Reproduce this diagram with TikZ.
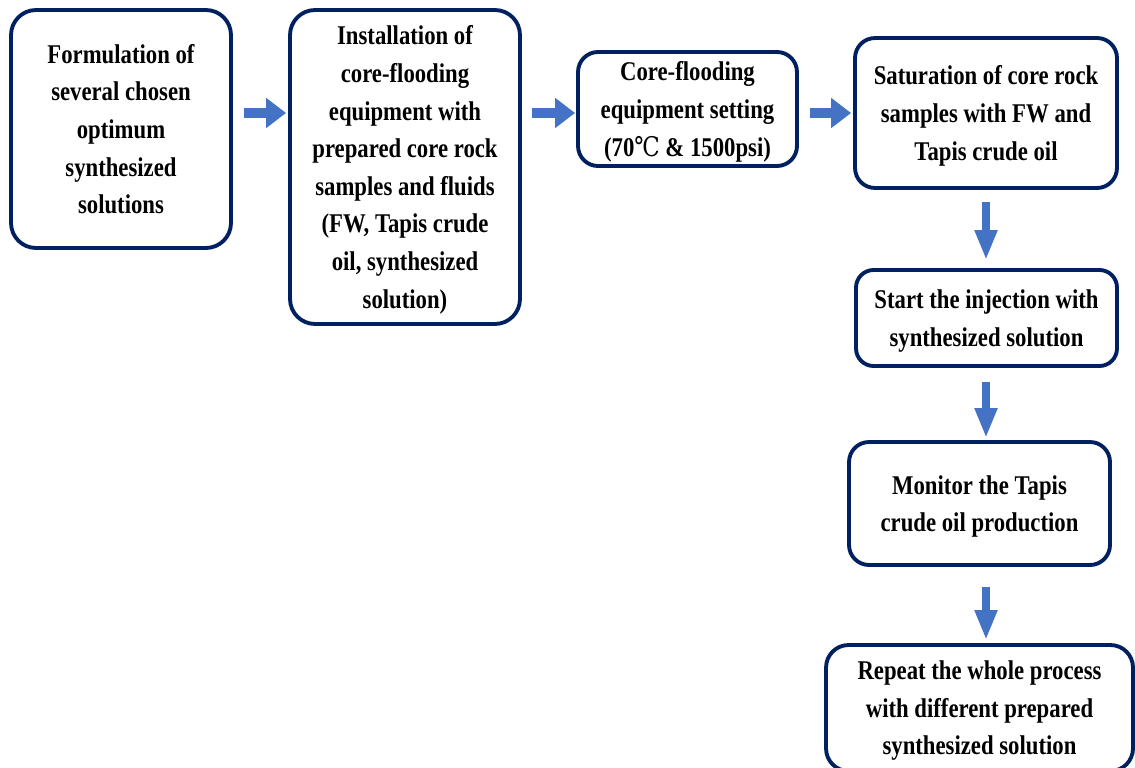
\documentclass[tikz,border=0pt]{standalone}
\usepackage{fontspec}
\setmainfont{Liberation Serif}[FakeStretch=0.84]
\newfontfamily\degfont{DejaVu Serif}[FakeStretch=0.84]
\usetikzlibrary{arrows.meta, positioning}
\definecolor{boxline}{RGB}{0,32,96}
\definecolor{arrowblue}{RGB}{68,114,196}

\begin{document}
\begin{tikzpicture}[
    x=0.02cm, y=-0.02cm,
    stage/.style={rectangle, draw=boxline, line width=2.2pt, rounded corners=0.5cm, align=center,
      inner sep=0pt, text depth=0pt, font=\fontsize{15.4}{21.4}\selectfont\bfseries},
    harrow/.style={-{Triangle[length=0.4cm, width=0.58cm]}, draw=arrowblue, line width=5.7pt},
    varrow/.style={-{Triangle[length=0.6cm, width=0.42cm]}, draw=arrowblue, line width=4.5pt}
  ]
    \useasboundingbox (0,0) rectangle (1135,767);

    % Top row
    \node[stage, minimum width=4.4cm, minimum height=4.76cm] (formulation) at (121,129)
      {Formulation of\\several chosen\\optimum\\synthesized\\solutions};
    \node[stage, minimum width=4.6cm, minimum height=6.28cm] (install) at (405,167)
      {Installation of\\core-flooding\\equipment with\\prepared core rock\\samples and fluids\\(FW, Tapis crude\\oil, synthesized\\solution)};
    \node[stage, minimum width=4.38cm, minimum height=2.28cm, rounded corners=0.4cm] (setting) at (687.5,109)
      {Core-flooding\\equipment setting\\(70{\degfont\mdseries ℃} \& 1500psi)};
    \node[stage, minimum width=5.24cm, minimum height=3cm, rounded corners=0.4cm] (saturation) at (986,113)
      {Saturation of core rock\\samples with FW and\\Tapis crude oil};

    % Right column
    \node[stage, minimum width=5.22cm, minimum height=1.92cm, rounded corners=0.35cm] (injection) at (986.5,318)
      {Start the injection with\\synthesized solution};
    \node[stage, minimum width=5.22cm, minimum height=2.46cm, rounded corners=0.4cm] (monitor) at (979.5,503.5)
      {Monitor the Tapis\\crude oil production};
    \node[stage, minimum width=6.14cm, minimum height=2.52cm, rounded corners=0.45cm] (repeat) at (979.5,708)
      {Repeat the whole process\\with different prepared\\synthesized solution};

    % Arrows
    \draw[harrow, shorten <=0.22cm, shorten >=0.04cm] (formulation.east |- saturation.west) -- (install.west |- saturation.west);
    \draw[harrow, shorten <=0.2cm, shorten >=0.02cm] (install.east |- saturation.west) -- (setting.west |- saturation.west);
    \draw[harrow, shorten <=0.22cm, shorten >=0.04cm] (setting.east |- saturation.west) -- (saturation.west);
    \draw[varrow, shorten <=0.24cm, shorten >=0.16cm] (saturation.south) -- (injection.north -| saturation.south);
    \draw[varrow, shorten <=0.28cm, shorten >=0.04cm] (injection.south -| saturation.south) -- (monitor.north -| saturation.south);
    \draw[varrow, shorten <=0.4cm, shorten >=0.06cm] (monitor.south -| saturation.south) -- (repeat.north -| saturation.south);
\end{tikzpicture}
\end{document}
